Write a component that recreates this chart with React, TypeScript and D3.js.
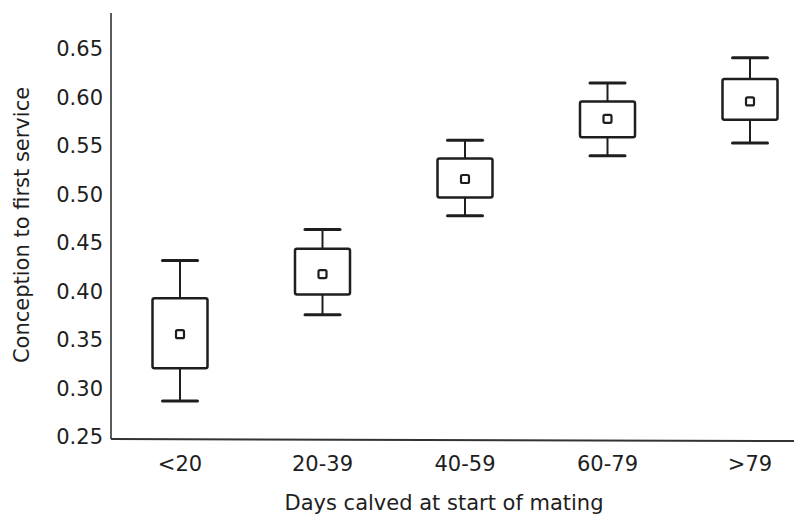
import React from "react";
import * as d3 from "d3";

// categories on the x axis
const categories = ["<20", "20-39", "40-59", "60-79", ">79"];
// box plot values
const whiskerLow = [0.287, 0.376, 0.478, 0.54, 0.553];
const boxLow = [0.321, 0.397, 0.497, 0.559, 0.577];
const mean = [0.356, 0.418, 0.516, 0.578, 0.596];
const boxHigh = [0.393, 0.444, 0.537, 0.596, 0.619];
const whiskerHigh = [0.432, 0.464, 0.556, 0.615, 0.641];
const yTicks = [0.25, 0.3, 0.35, 0.4, 0.45, 0.5, 0.55, 0.6, 0.65];

const width = 794;
const height = 517;
const margin = { top: 13, left: 111, bottom: 79 };

const App = () => {
    const x = d3.scalePoint<string>().domain(categories).range([180, 750]);
    const y = d3.scaleLinear().domain([0.25, 0.65]).range([height - margin.bottom - 1, 49]);
    const axisY = height - margin.bottom + 1;
    const font = "'DejaVu Sans', Verdana, sans-serif";
    const ink = "#1e1e1e";
    const boxW = 55;
    const capW = 35;
    const mk = 8;

    return (
        <svg width={width} height={height} style={{ position: "absolute", left: 0, top: 0 }}>
            <rect width={width} height={height} fill="#fff" />
            {/* axes */}
            <line x1={margin.left} x2={margin.left} y1={margin.top} y2={axisY} stroke="#333" strokeWidth={1.6} />
            <line x1={margin.left} x2={width} y1={axisY} y2={axisY + 2} stroke="#333" strokeWidth={2} />
            {yTicks.map((t) => (
                <text key={t} x={103} y={y(t)} dy="0.35em" textAnchor="end" fontFamily={font} fontSize={21} fill={ink}>
                    {t.toFixed(2)}
                </text>
            ))}
            {categories.map((c) => (
                <text key={c} x={x(c)} y={464} dy="0.35em" textAnchor="middle" fontFamily={font} fontSize={21} fill={ink}>
                    {c}
                </text>
            ))}
            <text x={444} y={503} dy="0.35em" textAnchor="middle" fontFamily={font} fontSize={21} fill={ink}>
                Days calved at start of mating
            </text>
            <text transform={`translate(22,225) rotate(-90)`} dy="0.35em" textAnchor="middle" fontFamily={font} fontSize={21} fill={ink}>
                Conception to first service
            </text>
            {/* boxes */}
            {categories.map((c, i) => {
                const cx = x(c) as number;
                return (
                    <g key={c} stroke={ink} fill="none">
                        <line x1={cx} x2={cx} y1={y(whiskerHigh[i])} y2={y(boxHigh[i])} strokeWidth={2} />
                        <line x1={cx} x2={cx} y1={y(boxLow[i])} y2={y(whiskerLow[i])} strokeWidth={2} />
                        <line x1={cx - capW / 2} x2={cx + capW / 2} y1={y(whiskerHigh[i])} y2={y(whiskerHigh[i])} strokeWidth={3} strokeLinecap="round" />
                        <line x1={cx - capW / 2} x2={cx + capW / 2} y1={y(whiskerLow[i])} y2={y(whiskerLow[i])} strokeWidth={3} strokeLinecap="round" />
                        <rect x={cx - boxW / 2} y={y(boxHigh[i])} width={boxW} height={y(boxLow[i]) - y(boxHigh[i])} rx={2} strokeWidth={2.5} />
                        <rect x={cx - mk / 2} y={y(mean[i]) - mk / 2} width={mk} height={mk} rx={1.5} strokeWidth={2.2} />
                    </g>
                );
            })}
        </svg>
    );
};

export default App;
